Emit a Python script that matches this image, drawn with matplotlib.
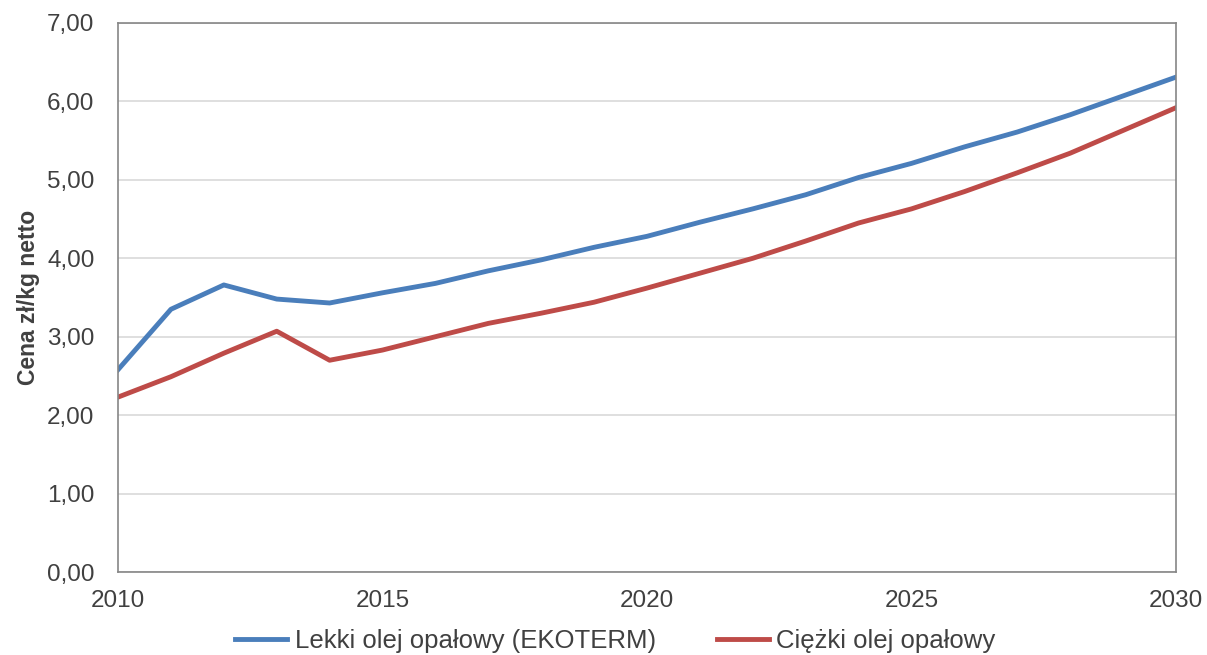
import numpy as np
import matplotlib
matplotlib.use("Agg")
import matplotlib.pyplot as plt

plt.rcParams['font.family'] = ['Liberation Sans', 'DejaVu Sans']

years = np.arange(2010, 2031)
lekki = [2.58, 3.35, 3.66, 3.48, 3.43, 3.56, 3.68, 3.84, 3.98, 4.14, 4.28,
         4.46, 4.63, 4.81, 5.03, 5.21, 5.42, 5.61, 5.83, 6.07, 6.31]
ciezki = [2.23, 2.49, 2.79, 3.07, 2.70, 2.83, 3.00, 3.17, 3.30, 3.44, 3.62,
          3.81, 4.00, 4.22, 4.45, 4.63, 4.85, 5.09, 5.34, 5.63, 5.92]
series_names = ["Lekki olej opałowy (EKOTERM)", "Ciężki olej opałowy"]
y_ticks = [0, 1, 2, 3, 4, 5, 6, 7]
x_ticks = [2010, 2015, 2020, 2025, 2030]

fig = plt.figure(figsize=(12.07, 6.55), dpi=100)
ax = fig.add_axes([0.0978, 0.1267, 0.8765, 0.8382])

ax.plot(years, lekki, color='#4a7ebb', lw=3.5, label=series_names[0])
ax.plot(years, ciezki, color='#be4b48', lw=3.5, label=series_names[1])

ax.set_xlim(2010, 2030)
ax.set_ylim(0, 7)
ax.set_xticks(x_ticks)
ax.set_yticks(y_ticks)
ax.set_yticklabels([f"{v:.2f}".replace('.', ',') for v in y_ticks])
ax.tick_params(axis='both', length=0, labelsize=17.5, labelcolor='#404040')
ax.tick_params(axis='x', pad=13)
ax.tick_params(axis='y', pad=17)

ax.grid(axis='y', color='#d9d9d9', lw=1.2)
ax.set_axisbelow(True)
for s in ax.spines.values():
    s.set_color('#868686')
    s.set_linewidth(1.2)

ax.set_ylabel("Cena zł/kg netto", fontsize=16.5, fontweight='bold', color='#404040', labelpad=5)

fig.legend(loc='center', bbox_to_anchor=(0.51, 0.022), ncol=2, frameon=False,
           fontsize=18.5, handlelength=2.0, handletextpad=0.3, columnspacing=2.4,
           labelcolor='#404040')

fig.savefig("out.png", dpi=100)
